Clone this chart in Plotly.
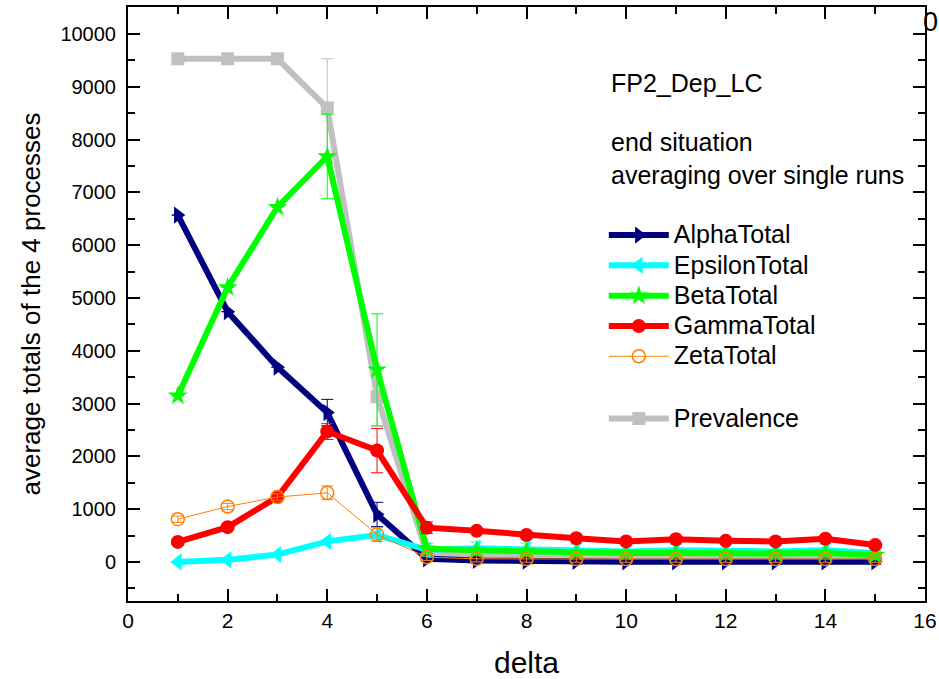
import plotly.graph_objects as go

delta = list(range(1, 16))

alpha = [6570, 4740, 3690, 2830, 900, 60, 30, 15, 10, 5, 5, 5, 5, 5, 5]
alpha_err = [0, 0, 0, 250, 230, 40, 50, 50, 50, 50, 50, 50, 50, 50, 50]

epsilon = [0, 40, 140, 390, 510, 230, 260, 240, 220, 200, 220, 210, 200, 220, 170]
epsilon_err = [0, 0, 0, 0, 0, 120, 120, 120, 120, 120, 120, 120, 120, 120, 120]

beta = [3150, 5200, 6720, 7680, 3640, 250, 220, 200, 180, 170, 170, 160, 160, 170, 130]
beta_err = [0, 0, 0, 800, 1060, 40, 30, 30, 30, 30, 30, 30, 30, 30, 30]

gamma = [380, 660, 1230, 2470, 2110, 650, 590, 510, 450, 390, 430, 400, 390, 440, 320]
gamma_err = [0, 0, 0, 150, 420, 110, 0, 0, 0, 0, 0, 0, 0, 0, 0]

zeta = [810, 1050, 1230, 1310, 520, 90, 60, 55, 55, 55, 55, 55, 55, 55, 55]
zeta_err = [60, 60, 60, 130, 130, 60, 60, 60, 60, 60, 60, 60, 60, 60, 60]

prevalence = [9530, 9530, 9530, 8600, 3130, 150, 120, 115, 110, 110, 110, 110, 110, 110, 100]
prevalence_err = [0, 0, 0, 930, 560, 0, 0, 0, 0, 0, 0, 0, 0, 0, 0]

yticks = list(range(0, 10001, 1000))
xticks = list(range(0, 17, 2))

FONT = "Arial, Liberation Sans, sans-serif"

series = [
    # name, y, err, color, symbol, line width, marker size, open, group, rank
    ("Prevalence", prevalence, prevalence_err, "#c0c0c0", "square", 6, 13, False, "b", 6),
    ("AlphaTotal", alpha, alpha_err, "#000080", "triangle-right", 6, 15, False, "a", 1),
    ("EpsilonTotal", epsilon, epsilon_err, "#00ffff", "triangle-left", 6, 15, False, "a", 2),
    ("BetaTotal", beta, beta_err, "#00ff00", "star", 6, 15, False, "a", 3),
    ("GammaTotal", gamma, gamma_err, "#ff0000", "circle", 6, 14, False, "a", 4),
    ("ZetaTotal", zeta, zeta_err, "#ff8000", "circle-open", 1, 13, True, "a", 5),
]

fig = go.Figure()
for name, y, err, color, sym, lw, ms, is_open, grp, rank in series:
    marker = dict(symbol=sym, size=ms, color=color)
    if is_open:
        marker["line"] = dict(color=color, width=1.5)
    fig.add_trace(go.Scatter(
        x=delta, y=y, name='<span style="font-size:25px">%s</span>' % name,
        mode="lines+markers",
        line=dict(color=color, width=lw),
        marker=marker,
        error_y=dict(type="data", array=err, visible=True, color=color,
                     thickness=1, width=6),
        legendgroup=grp, legendrank=rank,
    ))

axis_common = dict(
    showline=True, linewidth=2, linecolor="black", mirror="ticks",
    ticks="inside", ticklen=12, tickwidth=2, tickcolor="black",
    showgrid=False, zeroline=False, automargin=False,
)

fig.update_xaxes(
    range=[0, 16], tickvals=xticks, ticktext=[str(v) for v in xticks],
    tickfont=dict(family=FONT, size=21, color="black"),
    minor=dict(ticks="inside", ticklen=7, tickwidth=2, tickcolor="black", dtick=1, tick0=0),
    title=dict(text="delta", font=dict(family=FONT, size=30, color="black"), standoff=22),
    **axis_common,
)
fig.update_yaxes(
    range=[-739, 10511], tickvals=yticks, ticktext=[str(v) for v in yticks],
    tickfont=dict(family=FONT, size=20, color="black"), ticklabelstandoff=6,
    minor=dict(ticks="inside", ticklen=7, tickwidth=2, tickcolor="black", dtick=500, tick0=0),
    title=dict(text="average totals of the 4 processes", font=dict(family=FONT, size=26, color="black"), standoff=12),
    **axis_common,
)

for txt, yy in [("FP2_Dep_LC", 0.872), ("end situation", 0.772), ("averaging over single runs", 0.718)]:
    fig.add_annotation(text=txt, xref="paper", yref="paper", x=0.603, y=yy,
                       xanchor="left", yanchor="middle", showarrow=False,
                       font=dict(family=FONT, size=25, color="black"))
fig.add_annotation(text="0", xref="paper", yref="paper", x=1.0, y=0.975,
                   xanchor="left", yanchor="middle", showarrow=False, xshift=-4,
                   font=dict(family=FONT, size=27, color="black"))

fig.update_layout(
    width=939, height=679,
    margin=dict(l=128, r=14, t=7, b=78, autoexpand=False),
    plot_bgcolor="white", paper_bgcolor="white",
    font=dict(family=FONT, color="black"),
    showlegend=True,
    legend=dict(x=0.597, y=0.65, xanchor="left", yanchor="top",
                bgcolor="rgba(0,0,0,0)", font=dict(family=FONT, size=21, color="black"),
                traceorder="grouped", tracegroupgap=32, itemwidth=60),
)

# remove the default page margin so the figure sits at the window's top-left corner
fig.write_html("out.html", config={"displayModeBar": False},
               post_script="document.body.style.margin='0';document.body.style.overflow='hidden';")
